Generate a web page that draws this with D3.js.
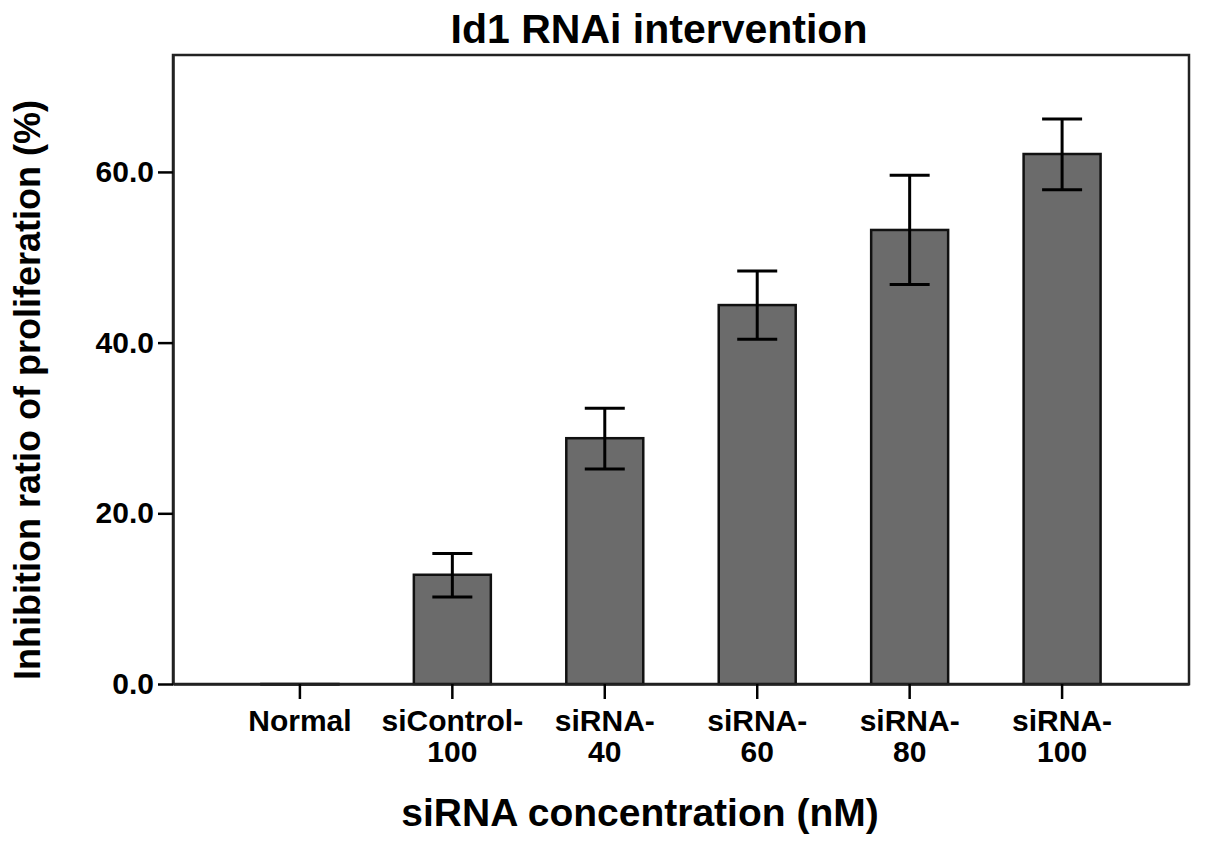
<!DOCTYPE html>
<html>
<head>
<meta charset="utf-8">
<script src="https://d3js.org/d3.v7.min.js"></script>
<style>
  body { margin: 0; background: #fff; }
  text { font-family: "Liberation Sans", Arial, sans-serif; font-weight: bold; fill: #000; }
</style>
</head>
<body>
<div id="bar"></div>
<script>
// data
var groups = ["Normal", "siControl-100", "siRNA-40", "siRNA-60", "siRNA-80", "siRNA-100"];
var labelLines = [["Normal"], ["siControl-", "100"], ["siRNA-", "40"], ["siRNA-", "60"], ["siRNA-", "80"], ["siRNA-", "100"]];
var means = [0, 12.8, 28.8, 44.4, 53.2, 62.1];
var errLow = [0, 10.2, 25.2, 40.4, 46.8, 57.9];
var errHigh = [0, 15.3, 32.3, 48.4, 59.6, 66.2];
var yTicks = [0, 20, 40, 60];

var margin = {top: 55, right: 16, bottom: 165, left: 173};
var width = 1205 - margin.left - margin.right;
var height = 849 - margin.top - margin.bottom;

var x = d3.scaleBand()
    .domain(groups)
    .range([0, width])
    .paddingInner(0.495)
    .paddingOuter(0.58);
var y = d3.scaleLinear()
    .domain([0, 73.7])
    .range([height, 0]);

var svg = d3.select("#bar").append("svg")
    .attr("width", 1205)
    .attr("height", 849)
    .append("g")
    .attr("transform", "translate(" + margin.left + "," + margin.top + ")");

// frame
svg.append("rect")
    .attr("x", 0)
    .attr("y", 0)
    .attr("width", width)
    .attr("height", height)
    .attr("fill", "none")
    .attr("stroke", "#222")
    .attr("stroke-width", 2.5);

var data = groups.map(function(g, i) {
    return {name: g, mean: means[i], lo: errLow[i], hi: errHigh[i]};
});

svg.selectAll(".bar")
    .data(data)
    .enter()
    .append("rect")
    .attr("class", "bar")
    .attr("x", function(d) { return x(d.name); })
    .attr("width", x.bandwidth())
    .attr("y", function(d) { return y(d.mean); })
    .attr("height", function(d) { return Math.max(height - y(d.mean), 0.5); })
    .attr("fill", "#6b6b6b")
    .attr("stroke", "#111")
    .attr("stroke-width", 2.5);

// error bars (skip the zero one)
var errs = svg.selectAll(".err")
    .data(data.filter(function(d) { return d.hi > d.lo; }))
    .enter()
    .append("g")
    .attr("class", "err")
    .attr("stroke", "#000")
    .attr("stroke-width", 3);
var cap = 20;
errs.append("line")
    .attr("x1", function(d) { return x(d.name) + x.bandwidth() / 2; })
    .attr("x2", function(d) { return x(d.name) + x.bandwidth() / 2; })
    .attr("y1", function(d) { return y(d.lo); })
    .attr("y2", function(d) { return y(d.hi); });
errs.append("line")
    .attr("x1", function(d) { return x(d.name) + x.bandwidth() / 2 - cap; })
    .attr("x2", function(d) { return x(d.name) + x.bandwidth() / 2 + cap; })
    .attr("y1", function(d) { return y(d.hi); })
    .attr("y2", function(d) { return y(d.hi); });
errs.append("line")
    .attr("x1", function(d) { return x(d.name) + x.bandwidth() / 2 - cap; })
    .attr("x2", function(d) { return x(d.name) + x.bandwidth() / 2 + cap; })
    .attr("y1", function(d) { return y(d.lo); })
    .attr("y2", function(d) { return y(d.lo); });

// x axis
var xAxis = svg.append("g")
    .attr("transform", "translate(0," + height + ")")
    .call(d3.axisBottom(x).tickSize(15).tickSizeOuter(0).tickFormat(""));
xAxis.select(".domain").attr("stroke", "#222").attr("stroke-width", 2.5);
xAxis.selectAll(".tick line").attr("stroke", "#000").attr("stroke-width", 2.5);
xAxis.selectAll(".tick")
    .append("text")
    .attr("text-anchor", "middle")
    .style("font-size", "30px")
    .each(function(d, i) {
        var t = d3.select(this);
        labelLines[i].forEach(function(line, j) {
            t.append("tspan")
                .attr("x", 0)
                .attr("y", 47 + j * 31)
                .text(line);
        });
    });

// y axis
var yAxis = svg.append("g")
    .call(d3.axisLeft(y).tickValues(yTicks).tickSize(15).tickSizeOuter(0).tickPadding(4).tickFormat(d3.format(".1f")));
yAxis.select(".domain").attr("stroke", "#222").attr("stroke-width", 2.5);
yAxis.selectAll(".tick line").attr("stroke", "#000").attr("stroke-width", 2.5);
yAxis.selectAll(".tick text")
    .style("font-size", "30px")
    .attr("fill", "#000");

// titles
svg.append("text")
    .attr("x", 659 - margin.left)
    .attr("y", 43 - margin.top)
    .attr("text-anchor", "middle")
    .style("font-size", "41px")
    .text("Id1 RNAi intervention");

svg.append("text")
    .attr("x", 640 - margin.left)
    .attr("y", 826 - margin.top)
    .attr("text-anchor", "middle")
    .style("font-size", "39px")
    .text("siRNA concentration (nM)");

svg.append("text")
    .attr("transform", "rotate(-90)")
    .attr("x", -(390 - margin.top))
    .attr("y", 40 - margin.left)
    .attr("text-anchor", "middle")
    .style("font-size", "36px")
    .text("Inhibition ratio of proliferation (%)");
</script>
</body>
</html>
